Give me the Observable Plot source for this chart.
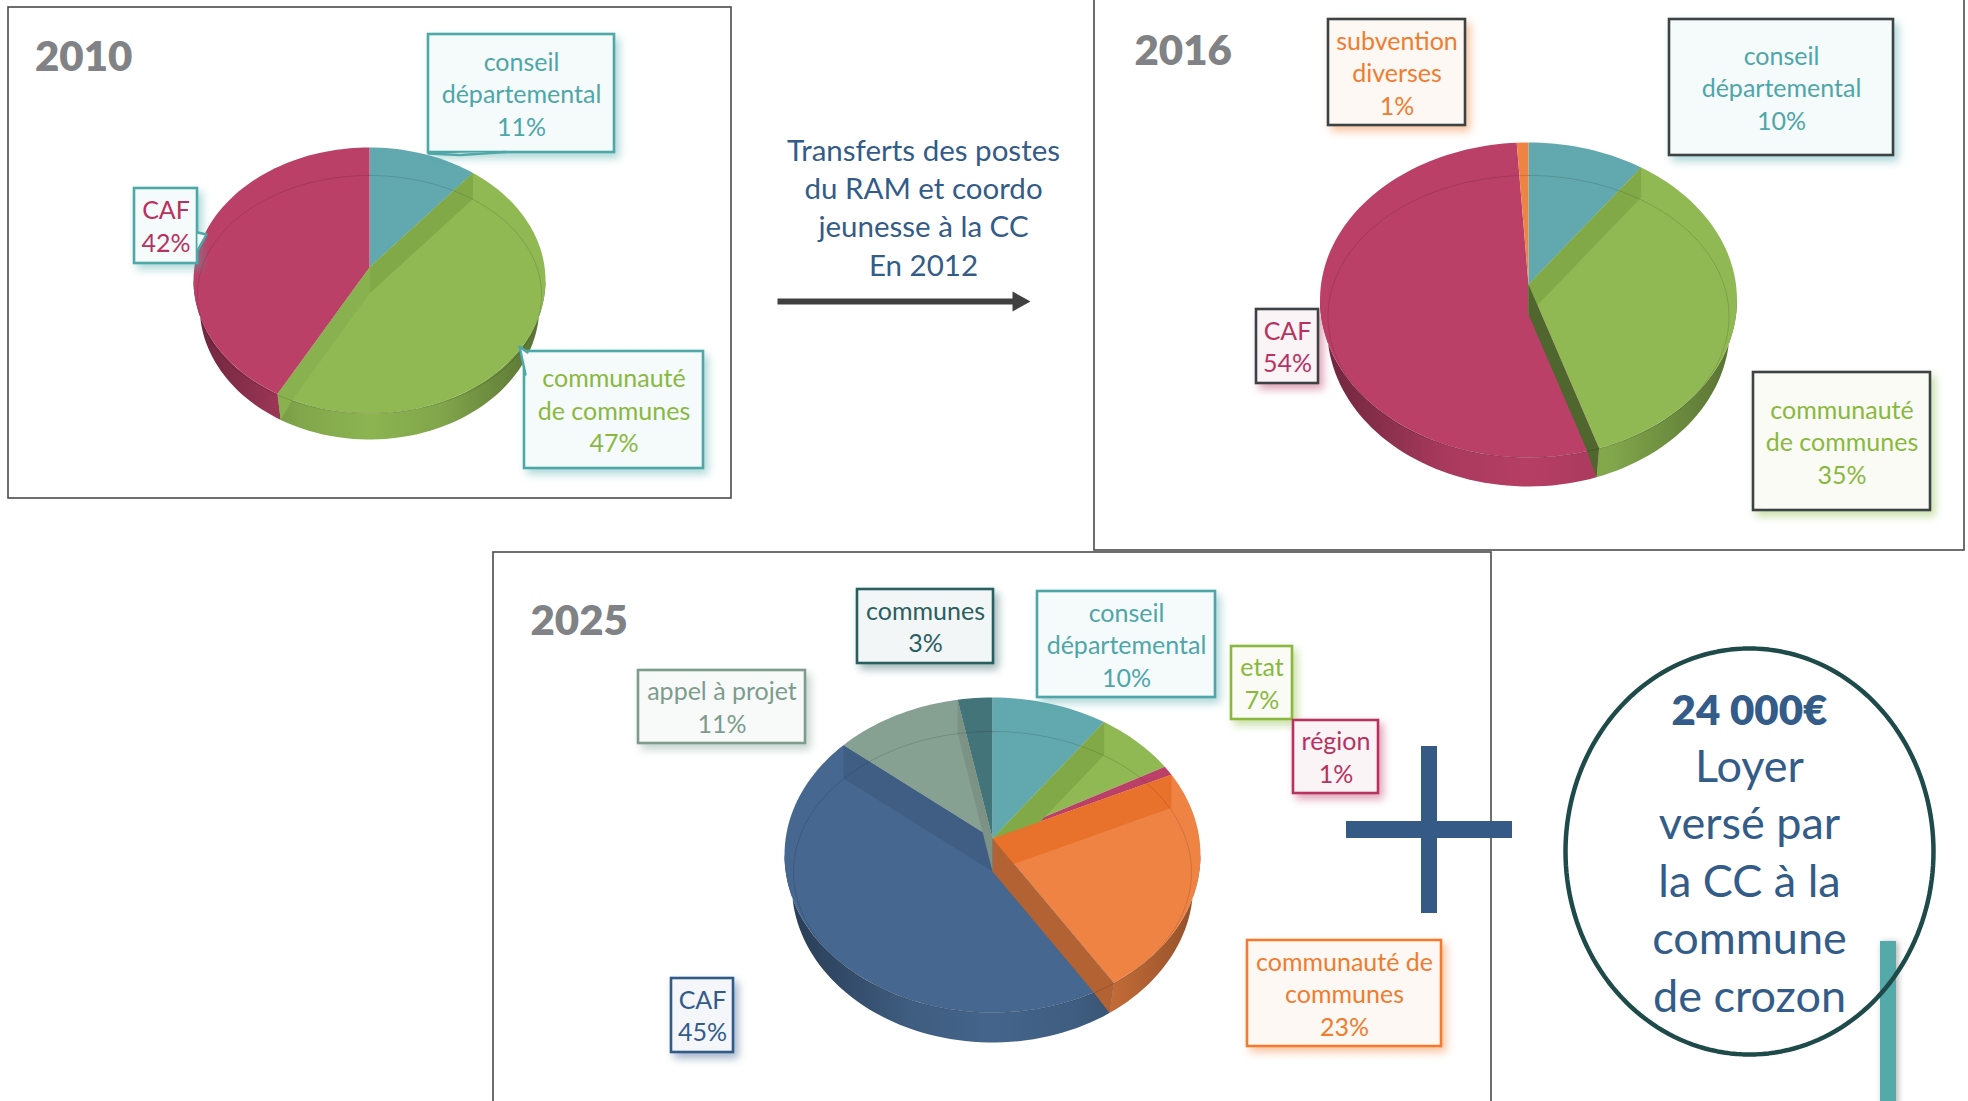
<!DOCTYPE html>
<html><head><meta charset="utf-8">
<script src="https://cdn.jsdelivr.net/npm/d3@7"></script>
<script src="https://cdn.jsdelivr.net/npm/@observablehq/plot@0.6"></script>
<style>html,body{margin:0;padding:0;background:#fff}svg{display:block}</style>
</head><body><div id="chart"></div>
<script>
// ---------- data ----------
const names2010 = ["conseil\ndépartemental", "communauté\nde communes", "CAF"];
const values2010 = [11, 47, 42];
const keys2010 = ["teal", "green", "red"];

const names2016 = ["conseil\ndépartemental", "communauté\nde communes", "CAF", "subvention\ndiverses"];
const values2016 = [10, 35, 54, 1];
const keys2016 = ["teal", "green", "red", "orange"];

const names2025 = ["conseil\ndépartemental", "etat", "région", "communauté de\ncommunes", "CAF", "appel à projet", "communes"];
const values2025 = [10, 7, 1, 23, 45, 11, 3];
const keys2025 = ["teal", "green", "red", "orange", "blue", "grey", "dark"];

const transferLines = ["Transferts des postes", "du RAM et coordo", "jeunesse à la CC", "En 2012"];
const rentLines = ["24 000€", "Loyer", "versé par", "la CC à la", "commune", "de crozon"];

// ---------- styles ----------
const faceColor = {teal:"#61a9ae", green:"#90b953", red:"#bb4068", orange:"#ee8344", blue:"#46678f", grey:"#86a091", dark:"#42747a"};
const textColor = {teal:"#4ea6a9", green:"#8ab83f", red:"#b8325f", orange:"#f07c30", blue:"#335b8a", grey:"#7d9c8d", dark:"#2a5f60"};
const font = "Lato, 'Open Sans', sans-serif";
const titleGrey = "#808285", ink = "#335c88";

// ---------- layout ----------
const W = 1968, H = 1101;
const frames = [
  {x1:8, x2:731, y1:7, y2:498},
  {x1:1094, x2:1964, y1:-6, y2:550},
  {x1:493, x2:1491, y1:552, y2:1110}
];
const pies = [
  {year:"2010", names:names2010, values:values2010, keys:keys2010, cx:369, rx:176, cy:280, ry:133, a1:267, a2:293, ix:172, icy:294, iry:119, depth:26, tx:34.5, ty:70},
  {year:"2016", names:names2016, values:values2016, keys:keys2016, cx:1528, rx:208.5, cy:299.5, ry:157.5, a1:284, a2:314, ix:200.5, icy:316, iry:141, depth:29, tx:1134, ty:64},
  {year:"2025", names:names2025, values:values2025, keys:keys2025, cx:992, rx:208, cy:854.5, ry:157.5, a1:838, a2:871, ix:199, icy:871.5, iry:140.5, depth:30, tx:530, ty:634}
];
const labelBoxes = [
  {p:0, s:0, x1:428, x2:614, y1:34, y2:152, border:"#4fa8a8"},
  {p:0, s:1, x1:524, x2:703, y1:351, y2:468, border:"#4fa8a8"},
  {p:0, s:2, x1:134, x2:197, y1:188, y2:263, border:"#4fa8a8"},
  {p:1, s:0, x1:1669, x2:1893, y1:19, y2:155, border:"#3d4345"},
  {p:1, s:1, x1:1753, x2:1930, y1:372, y2:510, border:"#3d4345"},
  {p:1, s:2, x1:1256, x2:1318, y1:309, y2:383, border:"#3d4345"},
  {p:1, s:3, x1:1328, x2:1465, y1:19, y2:125, border:"#3d4345"},
  {p:2, s:0, x1:1037, x2:1215, y1:591, y2:697},
  {p:2, s:1, x1:1231, x2:1292, y1:646, y2:719},
  {p:2, s:2, x1:1293, x2:1378, y1:720, y2:793},
  {p:2, s:3, x1:1247, x2:1441, y1:940, y2:1046},
  {p:2, s:4, x1:671, x2:733, y1:978, y2:1052},
  {p:2, s:5, x1:638, x2:805, y1:670, y2:743},
  {p:2, s:6, x1:857, x2:993, y1:589, y2:663}
];
const tails = [
  [[428,153],[460,154.5],[505,151.5]],
  [[197,232],[206,234],[197,250]],
  [[527,352],[519,346],[525,374]]
];
const lineStep = 32.5, labelSize = 25;
const wallNarrow = 0.965;

// ---------- pie geometry derived from the values ----------
const rad = Math.PI / 180;
const rows = {side:[], face:[], band:[], rim:[]};
const gradients = [];
function warpInv(target, e) { let t = target; for (let i = 0; i < 8; i++) t = target + e * Math.sin(t); return t; }
pies.forEach((P, pi) => {
  const arcs = d3.pie().sort(null)(P.values);
  const e = (P.cy - P.a1) / P.ry;                 // perspective shift of the apex
  const warp = t => t - e * Math.sin(t);
  const rim = t => { const w = warp(t); return [P.cx + P.rx * Math.sin(w), P.cy - P.ry * Math.cos(w)]; };
  const drop = ([x, y]) => [P.cx + (x - P.cx) * wallNarrow, y + P.depth];
  const range = (a, b) => { const n = Math.max(2, Math.ceil((b - a) / (2 * rad))); return d3.range(n + 1).map(i => a + (b - a) * i / n); };
  const push = (layer, id, fill, pts) => pts.forEach(([x, y]) => rows[layer].push({id, fill, x, y}));

  arcs.forEach((a, i) => {
    const base = faceColor[P.keys[i]], gid = `g${pi}-${i}`;
    gradients.push({gid, base, x1:P.cx - P.rx, x2:P.cx + P.rx});
    const lo = Math.max(a.startAngle, warpInv(Math.PI / 2, e)), hi = Math.min(a.endAngle, warpInv(3 * Math.PI / 2, e));
    if (hi > lo) {
      const ts = range(lo, hi);
      push("side", gid, `url(#${gid})`, [...ts.map(rim), ...ts.slice().reverse().map(rim).map(drop)]);
    }
  });
  arcs.forEach((a, i) => {
    push("face", `f${pi}-${i}`, faceColor[P.keys[i]], [[P.cx, P.a1], ...range(a.startAngle, a.endAngle).map(rim)]);
  });
  arcs.slice(0, -1).forEach((a, i) => {
    const t = a.endAngle, deg = t / rad;
    const ownerIdx = deg < 90 ? i + 1 : i;
    if (P.values[ownerIdx] <= 1 || deg > 352) return;
    const c = d3.hsl(faceColor[P.keys[ownerIdx]]);
    let fill;
    if (deg < 90) { c.s *= 0.96; c.l *= 0.9; fill = c.formatHex(); }
    else {
      const k = deg < 180 ? 0.6 + (deg - 144) * 0.06 : deg < 270 ? 0.12 : 0.25;
      fill = d3.color(faceColor[P.keys[ownerIdx]]).darker(k).formatHex();
    }
    const r0 = rim(t);
    const front = Math.cos(warp(t)) < 0;
    const f = front ? 0.82 : 1;
    const lower = [P.cx + f * (r0[0] - P.cx), P.a2 + f * (r0[1] - P.a1)];
    push("band", `b${pi}-${i}`, fill, [[P.cx, P.a1], r0, ...(front ? [drop(r0)] : []), lower, [P.cx, P.a2]]);
  });
  range(0, 2 * Math.PI).forEach(t => rows.rim.push({id:pi, x:P.cx + P.ix * Math.sin(t), y:P.icy - P.iry * Math.cos(t)}));
});

// ---------- labels ----------
const labels = labelBoxes.map(b => {
  const P = pies[b.p], key = P.keys[b.s], tc = textColor[key];
  const border = b.border ?? tc;
  const shadow = b.p === 1 ? tc : border;
  const n = P.names[b.s].split("\n").length + 1;
  return {...b, text:`${P.names[b.s]}\n${P.values[b.s]}%`, tc, border, shadow,
    bg:d3.interpolateRgb("#ffffff", shadow)(0.055),
    cx:(b.x1 + b.x2) / 2,
    base:(b.y1 + b.y2) / 2 + 9.5 + (n - 1) / 2 * lineStep};
});
const rentRows = rentLines.map((text, i) => ({text, y:724 + i * 57.4}));
const transferRows = transferLines.map((text, i) => ({text, y:160 + i * 38.4}));
const ring = d3.range(0, 361, 2).map(d => ({x:1749 + 184 * Math.sin(d * rad), y:851 - 203 * Math.cos(d * rad)}));

const marks = [
  () => {
    const ns = "http://www.w3.org/2000/svg", defs = document.createElementNS(ns, "defs");
    for (const g of gradients) {
      const el = document.createElementNS(ns, "linearGradient");
      el.setAttribute("id", g.gid); el.setAttribute("gradientUnits", "userSpaceOnUse");
      el.setAttribute("x1", g.x1); el.setAttribute("x2", g.x2); el.setAttribute("y1", 0); el.setAttribute("y2", 0);
      for (const [o, k] of [[0,1.5],[0.12,1.0],[0.3,0.3],[0.5,0.08],[0.7,0.3],[0.88,0.9],[1,1.4]]) {
        const st = document.createElementNS(ns, "stop");
        st.setAttribute("offset", o); st.setAttribute("stop-color", d3.color(g.base).darker(k).formatHex());
        el.appendChild(st);
      }
      defs.appendChild(el);
    }
    return defs;
  },
  Plot.rect(frames, {x1:"x1", x2:"x2", y1:"y1", y2:"y2", fill:"none", stroke:"#4a4a4a", strokeWidth:1.6}),
  Plot.line(rows.side, {x:"x", y:"y", z:"id", fill:"fill", stroke:"none"}),
  Plot.line(rows.face, {x:"x", y:"y", z:"id", fill:"fill", stroke:"none"}),
  Plot.line(rows.band, {x:"x", y:"y", z:"id", fill:"fill", stroke:"none"}),
  Plot.line(rows.rim, {x:"x", y:"y", z:"id", stroke:"#000", strokeOpacity:0.13, strokeWidth:1}),
  Plot.text(pies, {x:"tx", y:"ty", text:"year", textAnchor:"start", lineAnchor:"bottom", fontFamily:font, fontWeight:800, fontSize:42, fill:titleGrey}),
  ...labels.map(l => Plot.rect([l], {x1:"x1", x2:"x2", y1:"y1", y2:"y2", fill:"bg", stroke:"border", strokeWidth:2.6,
    imageFilter:`drop-shadow(4px 5px 4px ${d3.color(l.shadow).copy({opacity:0.45}).formatRgb()})`})),
  Plot.line(tails.flatMap((pts, i) => pts.map(([x, y]) => ({x, y, i}))), {x:"x", y:"y", z:"i", stroke:"#4fa8a8", strokeWidth:2.4, fill:"#f5f9fa"}),
  Plot.text(labels, {x:"cx", y:"base", text:"text", fill:"tc", textAnchor:"middle", lineAnchor:"bottom", lineHeight:lineStep / labelSize, fontFamily:font, fontSize:labelSize}),
  Plot.text(transferRows, {x:() => 923, y:"y", text:"text", textAnchor:"middle", lineAnchor:"bottom", fontFamily:font, fontSize:29.5, fill:ink}),
  Plot.line([{x:777, y:301},{x:1014, y:301}], {x:"x", y:"y", stroke:"#404040", strokeWidth:6, strokeLinecap:"butt"}),
  Plot.line([{x:1012, y:291},{x:1030, y:301},{x:1012, y:311}], {x:"x", y:"y", fill:"#404040", stroke:"none"}),
  Plot.rect([{x1:1421, x2:1437, y1:746, y2:913},{x1:1346, x2:1512, y1:821, y2:838}], {x1:"x1", x2:"x2", y1:"y1", y2:"y2", fill:"#355a85"}),
  Plot.rect([{x1:1880, x2:1896, y1:941, y2:1110}], {x1:"x1", x2:"x2", y1:"y1", y2:"y2", fill:"#55a9a8", imageFilter:"drop-shadow(2px 1px 3px rgba(0,0,0,0.3))"}),
  Plot.line(ring, {x:"x", y:"y", stroke:"#1f4a4a", strokeWidth:4.5}),
  Plot.text(rentRows.slice(0, 1), {x:() => 1749, y:"y", text:"text", textAnchor:"middle", lineAnchor:"bottom", fontFamily:font, fontSize:42, fontWeight:800, fill:ink}),
  Plot.text(rentRows.slice(1), {x:() => 1749, y:"y", text:"text", textAnchor:"middle", lineAnchor:"bottom", fontFamily:font, fontSize:45, fill:ink})
];

const chart = Plot.plot({
  width:W, height:H, margin:0,
  x:{domain:[0, W], range:[0, W], axis:null},
  y:{domain:[0, H], range:[0, H], axis:null},
  color:{type:"identity"},
  style:{background:"#fff", maxWidth:"none"},
  marks
});
document.getElementById("chart").appendChild(chart);
</script></body></html>
